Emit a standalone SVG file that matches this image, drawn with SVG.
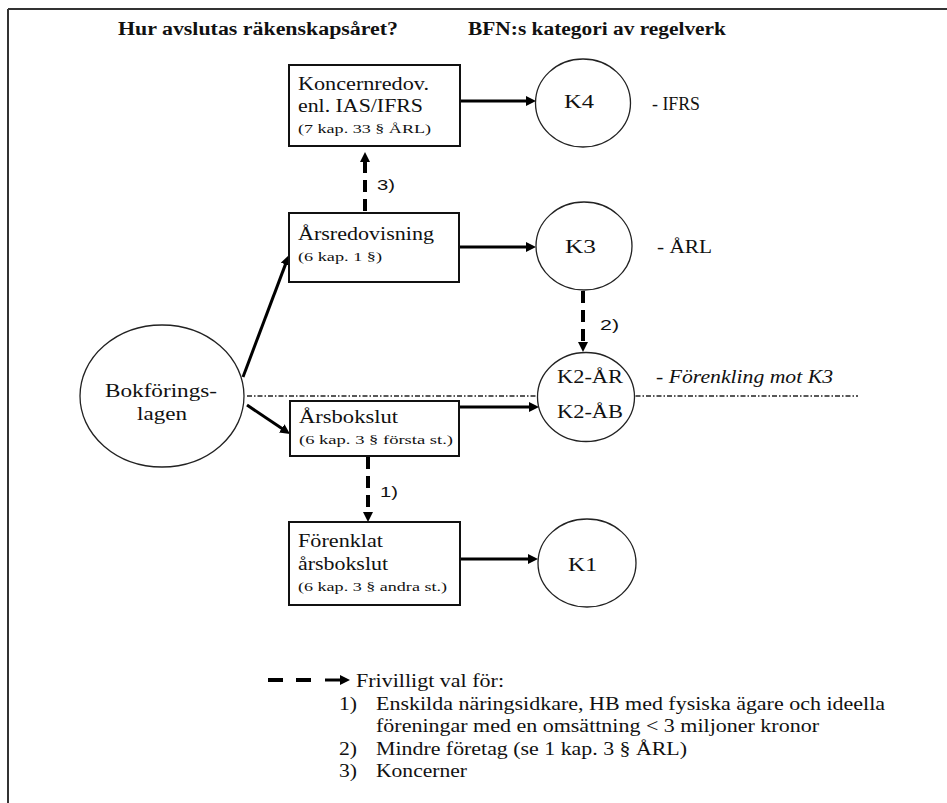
<svg xmlns="http://www.w3.org/2000/svg" width="947" height="803" viewBox="0 0 947 803">
<style>
.t{font-family:'Liberation Serif','Times New Roman',serif;font-size:19px;fill:#111}
.s{font-family:'Liberation Serif','Times New Roman',serif;font-size:13px;fill:#111}
.h{font-family:'Liberation Serif','Times New Roman',serif;font-size:18px;font-weight:bold;fill:#111}
.n{font-family:'Liberation Sans',Arial,sans-serif;font-size:15px;fill:#111}
.box{fill:#fff;stroke:#111;stroke-width:2}
.circ{fill:#fff;stroke:#222;stroke-width:1.3}
.solid{fill:none;stroke:#000;stroke-width:3}
.dash{fill:none;stroke:#000;stroke-width:4;stroke-dasharray:12 7}
</style>
<defs>
<marker id="ah" markerUnits="userSpaceOnUse" markerWidth="11" markerHeight="10" refX="3" refY="5" orient="auto">
<path d="M0,0 L10,5 L0,10 z" fill="#000"/>
</marker>
</defs>
<rect x="0" y="0" width="947" height="803" fill="#fff"/>
<g id="frame" stroke="#333" stroke-width="2" fill="none">
<line x1="8" y1="9" x2="947" y2="9"/>
<line x1="8" y1="9" x2="8" y2="803"/>
</g>
<g id="headers">
<text class="h" x="118" y="35" textLength="280" lengthAdjust="spacingAndGlyphs">Hur avslutas räkenskapsåret?</text>
<text class="h" x="468" y="35" textLength="258" lengthAdjust="spacingAndGlyphs">BFN:s kategori av regelverk</text>
</g>
<line id="divider" x1="247" y1="396" x2="858" y2="396" stroke="#222" stroke-width="1.3" stroke-dasharray="5 2 1.5 2"/>
<g id="connectors">
<line class="solid" x1="460" y1="101" x2="529" y2="101" marker-end="url(#ah)"/>
<line class="solid" x1="459" y1="247" x2="529" y2="247" marker-end="url(#ah)"/>
<line class="solid" x1="459" y1="407" x2="532" y2="407" marker-end="url(#ah)"/>
<line class="solid" x1="460" y1="559" x2="531" y2="559" marker-end="url(#ah)"/>
<line class="solid" x1="243" y1="377" x2="286.5" y2="261.6" marker-end="url(#ah)"/>
<line class="solid" x1="247" y1="405" x2="284.2" y2="430.1" marker-end="url(#ah)"/>
<line class="dash" x1="365" y1="211" x2="365" y2="159" marker-end="url(#ah)"/>
<line class="dash" x1="583" y1="291" x2="583" y2="345" marker-end="url(#ah)"/>
<line class="dash" x1="368" y1="457" x2="368" y2="515" marker-end="url(#ah)"/>
<text class="n" x="377" y="190" textLength="18" lengthAdjust="spacingAndGlyphs">3)</text>
<text class="n" x="600" y="330" textLength="19" lengthAdjust="spacingAndGlyphs">2)</text>
<text class="n" x="380" y="497" textLength="18" lengthAdjust="spacingAndGlyphs">1)</text>
</g>
<g id="bokforingslagen">
<ellipse class="circ" cx="162" cy="396" rx="82" ry="71"/>
<text class="t" x="105" y="397" textLength="112" lengthAdjust="spacingAndGlyphs">Bokförings-</text>
<text class="t" x="137" y="420" textLength="50" lengthAdjust="spacingAndGlyphs">lagen</text>
</g>
<g id="koncernredov">
<rect class="box" x="289" y="65" width="171" height="81"/>
<text class="t" x="298" y="90" textLength="131" lengthAdjust="spacingAndGlyphs">Koncernredov.</text>
<text class="t" x="298" y="112" textLength="125" lengthAdjust="spacingAndGlyphs">enl. IAS/IFRS</text>
<text class="s" x="298" y="133" textLength="133" lengthAdjust="spacingAndGlyphs">(7 kap. 33 § ÅRL)</text>
</g>
<g id="arsredovisning">
<rect class="box" x="289" y="213" width="170" height="69"/>
<text class="t" x="298" y="240" textLength="136" lengthAdjust="spacingAndGlyphs">Årsredovisning</text>
<text class="s" x="298" y="261" textLength="84" lengthAdjust="spacingAndGlyphs">(6 kap. 1 §)</text>
</g>
<g id="arsbokslut">
<rect class="box" x="290" y="401" width="169" height="55"/>
<text class="t" x="299" y="423" textLength="99" lengthAdjust="spacingAndGlyphs">Årsbokslut</text>
<text class="s" x="299" y="444" textLength="154" lengthAdjust="spacingAndGlyphs">(6 kap. 3 § första st.)</text>
</g>
<g id="forenklat">
<rect class="box" x="289" y="522" width="171" height="83"/>
<text class="t" x="298" y="547" textLength="85" lengthAdjust="spacingAndGlyphs">Förenklat</text>
<text class="t" x="298" y="570" textLength="90" lengthAdjust="spacingAndGlyphs">årsbokslut</text>
<text class="s" x="298" y="591" textLength="149" lengthAdjust="spacingAndGlyphs">(6 kap. 3 § andra st.)</text>
</g>
<g id="k4">
<ellipse class="circ" cx="583" cy="103" rx="47.5" ry="44"/>
<text class="t" x="564" y="108" textLength="30" lengthAdjust="spacingAndGlyphs">K4</text>
<text class="t" x="652" y="110" textLength="48" lengthAdjust="spacingAndGlyphs">- IFRS</text>
</g>
<g id="k3">
<ellipse class="circ" cx="584" cy="246" rx="48" ry="44"/>
<text class="t" x="565" y="253" textLength="31" lengthAdjust="spacingAndGlyphs">K3</text>
<text class="t" x="657" y="253" textLength="55" lengthAdjust="spacingAndGlyphs">- ÅRL</text>
</g>
<g id="k2">
<ellipse class="circ" cx="586" cy="397" rx="48.5" ry="44.5"/>
<text class="t" x="557" y="383" textLength="66" lengthAdjust="spacingAndGlyphs">K2-ÅR</text>
<text class="t" x="557" y="418" textLength="66" lengthAdjust="spacingAndGlyphs">K2-ÅB</text>
<text class="t" x="656" y="383" textLength="177" lengthAdjust="spacingAndGlyphs" font-style="italic">- Förenkling mot K3</text>
</g>
<g id="k1">
<ellipse class="circ" cx="587" cy="563" rx="49" ry="44"/>
<text class="t" x="568" y="571" textLength="29" lengthAdjust="spacingAndGlyphs">K1</text>
</g>
<g id="legend">
<line x1="268" y1="680" x2="283" y2="680" stroke="#000" stroke-width="4"/>
<line x1="296" y1="680" x2="311" y2="680" stroke="#000" stroke-width="4"/>
<line x1="325" y1="680" x2="343" y2="680" stroke="#000" stroke-width="3" marker-end="url(#ah)"/>
<text class="t" x="356" y="687" textLength="148" lengthAdjust="spacingAndGlyphs">Frivilligt val för:</text>
<text class="t" x="339" y="710" textLength="18" lengthAdjust="spacingAndGlyphs">1)</text>
<text class="t" x="376" y="710" textLength="509" lengthAdjust="spacingAndGlyphs">Enskilda näringsidkare, HB med fysiska ägare och ideella</text>
<text class="t" x="376" y="732" textLength="443" lengthAdjust="spacingAndGlyphs">föreningar med en omsättning &lt; 3 miljoner kronor</text>
<text class="t" x="339" y="755" textLength="18" lengthAdjust="spacingAndGlyphs">2)</text>
<text class="t" x="376" y="755" textLength="311" lengthAdjust="spacingAndGlyphs">Mindre företag (se 1 kap. 3 § ÅRL)</text>
<text class="t" x="339" y="777" textLength="18" lengthAdjust="spacingAndGlyphs">3)</text>
<text class="t" x="376" y="777" textLength="91" lengthAdjust="spacingAndGlyphs">Koncerner</text>
</g>
</svg>
